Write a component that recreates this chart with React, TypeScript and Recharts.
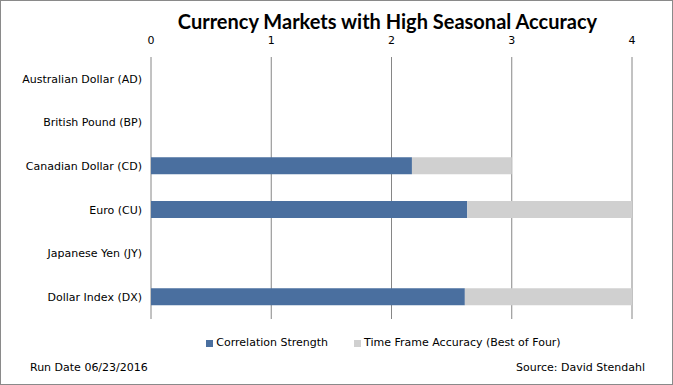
import React from 'react';
import {
  BarChart,
  Bar,
  XAxis,
  YAxis,
  CartesianGrid,
  Legend,
} from 'recharts';

// Chart values
const markets = [
  'Australian Dollar (AD)',
  'British Pound (BP)',
  'Canadian Dollar (CD)',
  'Euro (CU)',
  'Japanese Yen (JY)',
  'Dollar Index (DX)',
];
const correlationStrength = [0, 0, 2.17, 2.63, 0, 2.61];
const timeFrameAccuracy = [0, 0, 0.83, 1.37, 0, 1.39];
const xTicks = [0, 1, 2, 3, 4];

const BLUE = '#4a6f9f';
const GREY = '#d0d0d0';
const AXIS = '#868686';
const FONT = '"DejaVu Sans", Tahoma, sans-serif';

const data = markets.map((name, i) => ({
  name,
  correlation: correlationStrength[i],
  timeFrame: timeFrameAccuracy[i],
}));

const App: React.FC = () => {
  return (
    <div
      style={{
        position: 'absolute',
        left: 0,
        top: 0,
        width: 673,
        height: 385,
        boxSizing: 'border-box',
        border: '1px solid #8a8a8a',
        background: '#fff',
        fontFamily: FONT,
      }}
    >
      <div
        style={{
          position: 'absolute',
          top: 8,
          left: 0,
          width: 673,
          paddingLeft: 100,
          boxSizing: 'border-box',
          textAlign: 'center',
          fontFamily: 'Lato, sans-serif',
          fontWeight: 700,
          fontSize: 20,
          color: '#000',
        }}
      >
        Currency Markets with High Seasonal Accuracy
      </div>

      <div style={{ position: 'absolute', left: -1, top: -1 }}>
        <BarChart
          width={673}
          height={385}
          data={data}
          layout="vertical"
          margin={{ top: 27, right: 41, bottom: 53, left: 0 }}
        >
          <CartesianGrid horizontal={false} stroke={AXIS} />
          <XAxis
            type="number"
            orientation="top"
            domain={[0, 4]}
            ticks={xTicks}
            height={30}
            axisLine={false}
            tickLine={false}
            tickSize={0}
            tickMargin={13}
            tick={{ fill: '#000', fontSize: 11, fontFamily: FONT }}
          />
          <YAxis
            type="category"
            dataKey="name"
            width={151}
            axisLine={false}
            tickLine={false}
            tickSize={0}
            tickMargin={9}
            tick={{ fill: '#000', fontSize: 11, fontFamily: FONT, width: 300 }}
          />
          <Legend
            layout="horizontal"
            iconType="square"
            iconSize={7}
            wrapperStyle={{
              position: 'absolute',
              top: 336,
              left: 0,
              bottom: 'auto',
              width: 673,
              paddingLeft: 120,
              boxSizing: 'border-box',
              fontSize: 11,
              fontFamily: FONT,
            }}
            formatter={(value) => (
              <span style={{ color: '#000', marginRight: 16, marginLeft: -1 }}>{value}</span>
            )}
          />
          <Bar
            dataKey="correlation"
            name="Correlation Strength"
            stackId="a"
            fill={BLUE}
            barSize={17}
            isAnimationActive={false}
          />
          <Bar
            dataKey="timeFrame"
            name="Time Frame Accuracy (Best of Four)"
            stackId="a"
            fill={GREY}
            barSize={17}
            isAnimationActive={false}
          />
        </BarChart>
      </div>

      <div style={{ position: 'absolute', left: 29, top: 360, fontSize: 11, color: '#000' }}>
        Run Date 06/23/2016
      </div>
      <div style={{ position: 'absolute', right: 27, top: 360, fontSize: 11, color: '#000' }}>
        Source: David Stendahl
      </div>
    </div>
  );
};

export default App;
